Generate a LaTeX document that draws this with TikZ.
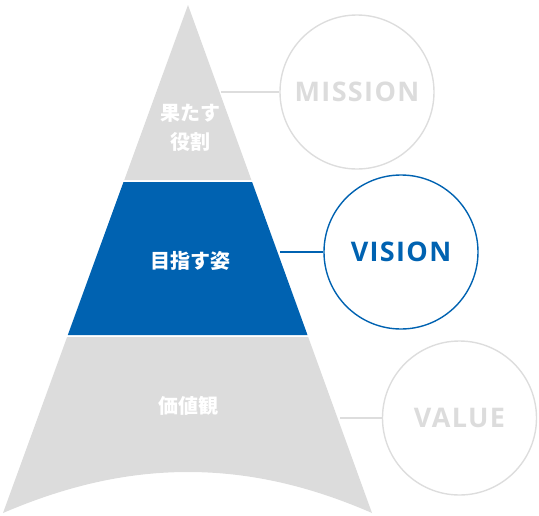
\documentclass[tikz,border=0pt]{standalone}
\usepackage{fontspec}
\setmainfont{Open Sans}
\newfontfamily\cjk{Noto Sans CJK JP}
\definecolor{pgrey}{HTML}{DCDCDC}
\definecolor{pblue}{HTML}{0062B1}
\definecolor{cgrey}{HTML}{DDDDDD}
\begin{document}
\begin{tikzpicture}[x=1pt,y=-1pt,
  jtext/.style={text=white,font=\cjk\bfseries\fontsize{20}{29}\selectfont,align=center},
  ring/.style={circle,draw=cgrey,line width=1.4pt,minimum size=154pt,inner sep=0pt,
    text=pgrey,font=\bfseries\fontsize{27}{30}\selectfont\addfontfeature{LetterSpace=5}},
  bluering/.style={ring,draw=pblue,text=pblue},
  link/.style={draw=cgrey,line width=1.4pt},
  bluelink/.style={draw=pblue,line width=1.4pt}]
\useasboundingbox (0,0) rectangle (539,515);
% pyramid sections
\coordinate (apex) at (188,5);
\coordinate (t1l) at (124.3,180);
\coordinate (t1r) at (251.4,180);
\coordinate (b1l) at (123.5,182);
\coordinate (b1r) at (252.1,182);
\coordinate (b2l) at (67.8,335);
\coordinate (b2r) at (307.5,335);
\coordinate (g1l) at (67.1,337);
\coordinate (g1r) at (308.2,337);
\coordinate (g2l) at (3,513);
\coordinate (g2r) at (372,513);
\fill[pgrey] (apex) -- (t1r) -- (t1l) -- cycle;
\fill[pblue] (b1l) -- (b1r) -- (b2r) -- (b2l) -- cycle;
\fill[pgrey] (g1l) -- (g1r) -- (g2r) .. controls (310,486) and (250,472) .. (188,472)
   .. controls (126,472) and (66,486) .. (g2l) -- cycle;
% labels
\node[jtext] (role) at (190,128) {果たす\\役割};
\node[jtext] (aim) at (190,261) {目指す姿};
\node[jtext] (val) at (188,406) {価値観};
% circles
\node[ring] (mission) at (357,92) {MISSION};
\node[bluering] (vision) at (401,252) {VISION};
\node[ring] (value) at (459.5,418) {VALUE};
% connectors
\coordinate (e1) at (221,92);
\coordinate (e2) at (280,252);
\coordinate (e3) at (340,418);
\draw[link] (e1) -- (mission.west);
\draw[bluelink] (e2) -- (vision.west);
\draw[link] (e3) -- (value.west);
\end{tikzpicture}
\end{document}
